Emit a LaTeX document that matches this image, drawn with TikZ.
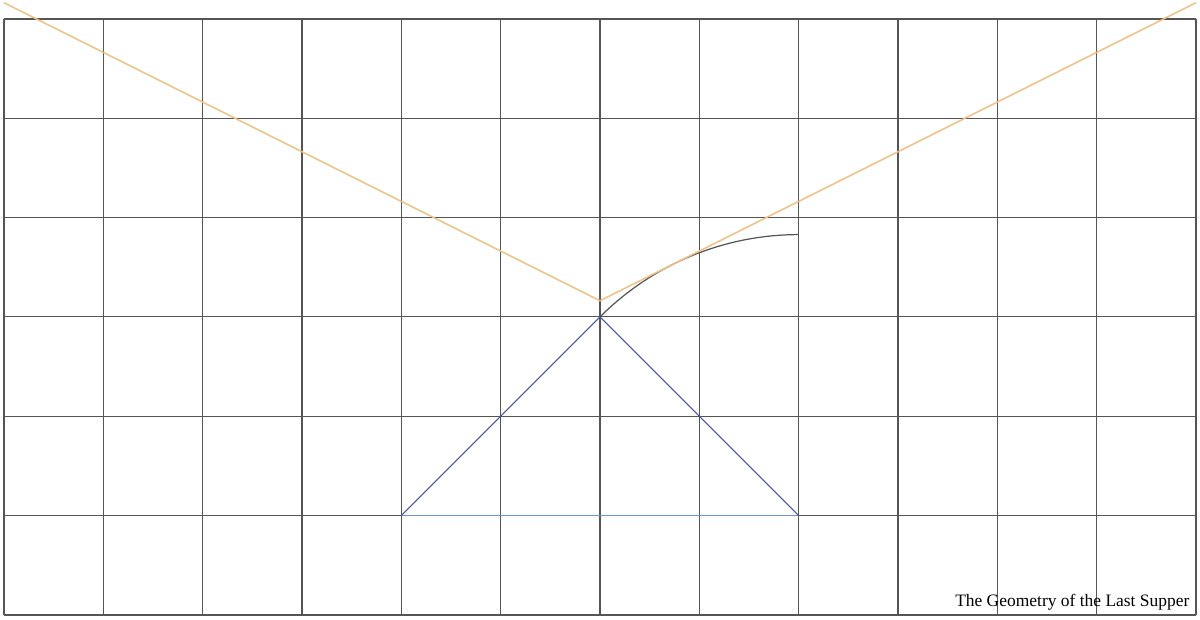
\documentclass[tikz,border=0pt]{standalone}
\usepackage{fontspec}
\setmainfont{Liberation Serif}

\definecolor{gridgray}{HTML}{555555}
\definecolor{supperorange}{HTML}{EDBE86}
\definecolor{triblue}{HTML}{4452A8}
\definecolor{baseblue}{HTML}{6F93D2}

\tikzset{
    gridline/.style={draw=gridgray, line width=0.35pt},
    vline/.style={draw=supperorange, line width=0.4pt},
    triside/.style={draw=triblue, line width=0.3pt},
    tribase/.style={draw=baseblue, line width=0.4pt},
    arcline/.style={draw=gridgray, line width=0.35pt},
}

\begin{document}
\begin{tikzpicture}
        \useasboundingbox (-0.04,-0.05) rectangle (12.04,6.19);

        % square grid, 12 x 6
        \draw[gridline] (0,0) grid (12,6);

        % triangle
        \coordinate (left) at (4,1);
        \coordinate (apex) at (6,3);
        \coordinate (right) at (8,1);
        \draw[tribase] (left) -- (right);
        \draw[triside] (left) -- (apex) -- (right);

        % arc about the right corner
        \draw[arcline] (apex) arc[start angle=135, end angle=90, radius={2*sqrt(2)}] coordinate (arcend);

        % the V, tangent to the arc
        \coordinate (vtip) at (6,{sqrt(10)});
        \coordinate (vleft) at (0,{sqrt(10)+3});
        \coordinate (vright) at (12,{sqrt(10)+3});
        \draw[vline] (vleft) -- (vtip) -- (vright);

        \node[anchor=base east, inner sep=0pt, font=\fontsize{5}{6}\selectfont] (title) at (11.94,0.08) {The Geometry of the Last Supper};

    \end{tikzpicture}
\end{document}
